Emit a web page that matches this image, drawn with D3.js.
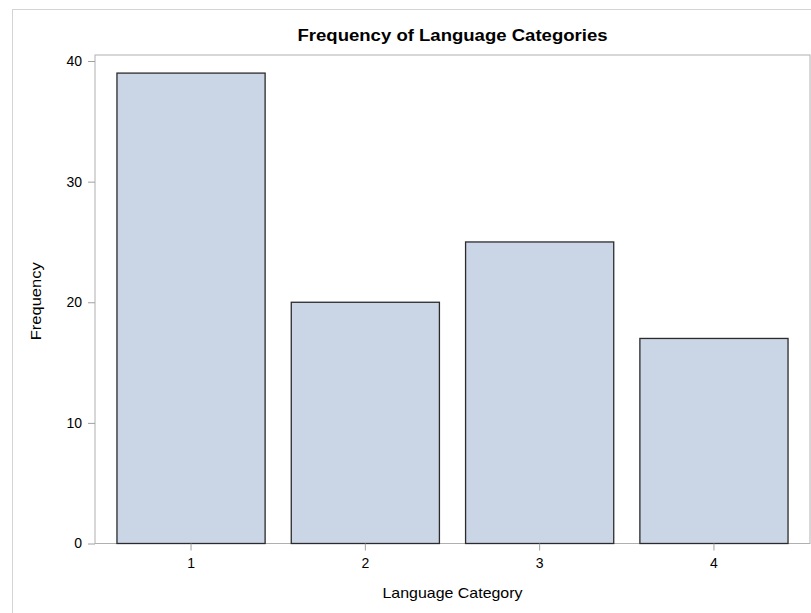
<!DOCTYPE html>
<html>
<head>
<meta charset="utf-8">
<script src="https://cdn.jsdelivr.net/npm/d3@7"></script>
<style>
  html, body { margin: 0; padding: 0; background: #fff; }
  svg { display: block; }
  text { font-family: "Liberation Sans", Arial, sans-serif; fill: #000; }
</style>
</head>
<body>
<svg id="chart" width="811" height="613"></svg>
<script>
const categories = ["1", "2", "3", "4"];
const frequencies = [39, 20, 25, 17];
const yTicks = [0, 10, 20, 30, 40];
const titleText = "Frequency of Language Categories";
const xTitle = "Language Category";
const yTitle = "Frequency";

const svg = d3.select("#chart");
const W = 811, H = 613;
const plot = { left: 95, right: 810, top: 55, bottom: 543.5 };

// outer border
svg.append("rect")
  .attr("x", 12.5).attr("y", 9.5)
  .attr("width", W + 10).attr("height", H + 10)
  .attr("fill", "none").attr("stroke", "#d4d4d4").attr("stroke-width", 1);

const x = d3.scaleBand()
  .domain(categories)
  .range([plot.left, plot.right])
  .paddingInner(0.15)
  .paddingOuter(0.126);

const y = d3.scaleLinear()
  .domain([0, 40.5])
  .range([plot.bottom, plot.top]);

// plot frame
svg.append("rect")
  .attr("x", plot.left).attr("y", plot.top)
  .attr("width", plot.right - plot.left).attr("height", plot.bottom - plot.top)
  .attr("fill", "none").attr("stroke", "#b0b0b0").attr("stroke-width", 1);

// bars
svg.append("g").selectAll("rect")
  .data(categories.map((c, i) => ({ c, v: frequencies[i] })))
  .join("rect")
  .attr("x", d => x(d.c))
  .attr("y", d => y(d.v))
  .attr("width", x.bandwidth())
  .attr("height", d => y(0) - y(d.v))
  .attr("fill", "#cad5e5")
  .attr("stroke", "#2b2b2b")
  .attr("stroke-width", 1.3);

// y axis
const yAxis = svg.append("g")
  .attr("transform", `translate(${plot.left},0)`)
  .call(d3.axisLeft(y).tickValues(yTicks).tickSize(7).tickPadding(6).tickSizeOuter(0));
yAxis.select(".domain").remove();
yAxis.selectAll("line").attr("stroke", "#a0a0a0");
yAxis.selectAll("text").style("font-size", "14px").attr("fill", "#000").style("font-family", "'Liberation Sans', Arial, sans-serif");

// x axis
const xAxis = svg.append("g")
  .attr("transform", `translate(0,${plot.bottom})`)
  .call(d3.axisBottom(x).tickSize(7).tickPadding(8).tickSizeOuter(0));
xAxis.select(".domain").remove();
xAxis.selectAll("line").attr("stroke", "#a0a0a0");
xAxis.selectAll("text").style("font-size", "14px").attr("fill", "#000").style("font-family", "'Liberation Sans', Arial, sans-serif");

// title
svg.append("text")
  .attr("x", (plot.left + plot.right) / 2).attr("y", 41)
  .attr("text-anchor", "middle")
  .attr("textLength", 310).attr("lengthAdjust", "spacingAndGlyphs")
  .style("font-size", "16px").style("font-weight", "bold")
  .text(titleText);

// x title
svg.append("text")
  .attr("x", (plot.left + plot.right) / 2).attr("y", 598)
  .attr("text-anchor", "middle")
  .attr("textLength", 140).attr("lengthAdjust", "spacingAndGlyphs")
  .style("font-size", "15px")
  .text(xTitle);

// y title
svg.append("text")
  .attr("transform", `translate(41,${(plot.top + plot.bottom) / 2 + 2}) rotate(-90)`)
  .attr("text-anchor", "middle")
  .attr("textLength", 78).attr("lengthAdjust", "spacingAndGlyphs")
  .style("font-size", "15px")
  .text(yTitle);
</script>
</body>
</html>
